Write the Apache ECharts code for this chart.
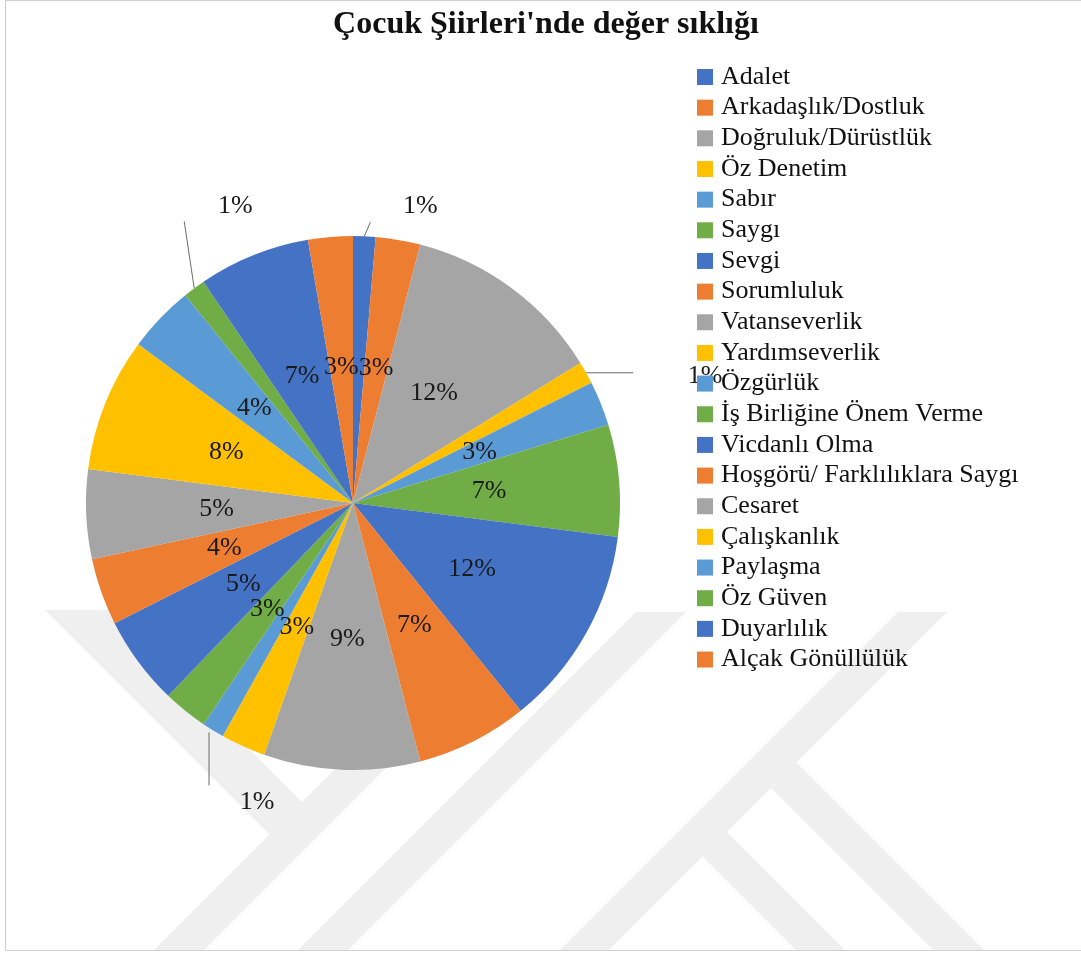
<!DOCTYPE html>
<html>
<head>
<meta charset="utf-8">
<script src="https://cdn.jsdelivr.net/npm/echarts@6/dist/echarts.min.js"></script>
<style>
html,body{margin:0;padding:0;background:#ffffff;}
#chart{width:1081px;height:956px;}
</style>
</head>
<body>
<div id="chart"></div>
<script>
// ---- data ----
const titleText = "Çocuk Şiirleri'nde değer sıklığı";
const categories = [
  'Adalet', 'Arkadaşlık/Dostluk', 'Doğruluk/Dürüstlük', 'Öz Denetim', 'Sabır',
  'Saygı', 'Sevgi', 'Sorumluluk', 'Vatanseverlik', 'Yardımseverlik',
  'Özgürlük', 'İş Birliğine Önem Verme', 'Vicdanlı Olma', 'Hoşgörü/ Farklılıklara Saygı', 'Cesaret',
  'Çalışkanlık', 'Paylaşma', 'Öz Güven', 'Duyarlılık', 'Alçak Gönüllülük'
];
const counts = [1, 2, 9, 1, 2, 5, 9, 5, 7, 2, 1, 2, 4, 3, 4, 6, 3, 1, 5, 2];

// ---- style ----
const palette = ['#4472C4', '#ED7D31', '#A5A5A5', '#FFC000', '#5B9BD5', '#70AD47'];
const serif = 'Liberation Serif, Times New Roman, serif';
// offsets relative to the library-computed slice edge point: [lineStart, lineEnd], labelCenter
const outsideLabels = {
  0:  { line: [[0, 0], [6, -14]], label: [56, -30] },
  3:  { line: [[0, 0], [47, 0]], label: [119, 3] },
  10: { line: [[-4, 2], [-4, 55]], label: [44, 72] },
  17: { line: [[0, 0], [-10, -67]], label: [41, -82] }
};

// watermark (decoration only)
const wmColor = '#efefef';
const watermark = [
  [[45,610],[110,610],[302,802],[269.5,834.5]],
  [[153,951],[203,951],[542,612],[492,612]],
  [[297,951],[347,951],[686,612],[636,612]],
  [[559,951],[608,951],[947,612],[898,612]],
  [[771,788],[796.5,762.5],[985,951],[934,951]],
  [[702.5,856.5],[727,832],[846,951],[797,951]]
];

const chart = echarts.init(document.getElementById('chart'), null, {renderer: 'canvas'});

const graphics = watermark.map(pts => ({
  type: 'polygon', z: 0, silent: true,
  shape: { points: pts },
  style: { fill: wmColor }
}));
graphics.push({
  type: 'polyline', z: 1, silent: true,
  shape: { points: [[1081, 0.5], [5.5, 0.5], [5.5, 950.5], [1081, 950.5]] },
  style: { stroke: '#d0d0d0', lineWidth: 1.2, fill: null }
});

const option = {
  backgroundColor: '#ffffff',
  animation: false,
  color: palette,
  title: {
    text: titleText,
    left: 546,
    textAlign: 'center',
    top: 9,
    padding: 0,
    textStyle: { fontFamily: serif, fontSize: 32, fontWeight: 'bold', color: '#111111' }
  },
  legend: {
    orient: 'vertical',
    left: 697,
    top: 64,
    padding: 0,
    itemWidth: 16,
    itemHeight: 16,
    itemGap: 4.66,
    icon: 'rect',
    selectedMode: false,
    data: categories,
    textStyle: { fontFamily: serif, fontSize: 26, lineHeight: 26, color: '#111111', padding: [0, 0, 0, 3] }
  },
  graphic: graphics,
  series: [{
    type: 'pie',
    center: [353, 503],
    radius: 267,
    startAngle: 90,
    clockwise: true,
    avoidLabelOverlap: false,
    silent: true,
    z: 2,
    itemStyle: { borderWidth: 0 },
    emphasis: { disabled: true },
    label: {
      show: true,
      position: 'inside',
      formatter: p => Math.round(p.percent) + '%',
      fontFamily: serif,
      fontSize: 26,
      color: '#1a1a1a'
    },
    labelLine: { show: false },
    data: categories.map((name, i) => {
      const item = { name: name, value: counts[i] };
      if (outsideLabels[i]) {
        item.label = { position: 'outside', color: '#1a1a1a' };
        item.labelLine = { show: true, length: 10, length2: 0, lineStyle: { color: '#6b6b6b', width: 1 } };
      }
      return item;
    }),
    labelLayout: function (p) {
      const t = outsideLabels[p.dataIndex];
      if (!t || !p.labelLinePoints) return {};
      const e = p.labelLinePoints[0];
      const a = [e[0] + t.line[0][0], e[1] + t.line[0][1]];
      const b = [e[0] + t.line[1][0], e[1] + t.line[1][1]];
      return {
        x: e[0] + t.label[0],
        y: e[1] + t.label[1],
        align: 'center',
        verticalAlign: 'middle',
        labelLinePoints: [a, b, b]
      };
    }
  }]
};

chart.setOption(option);
</script>
</body>
</html>
